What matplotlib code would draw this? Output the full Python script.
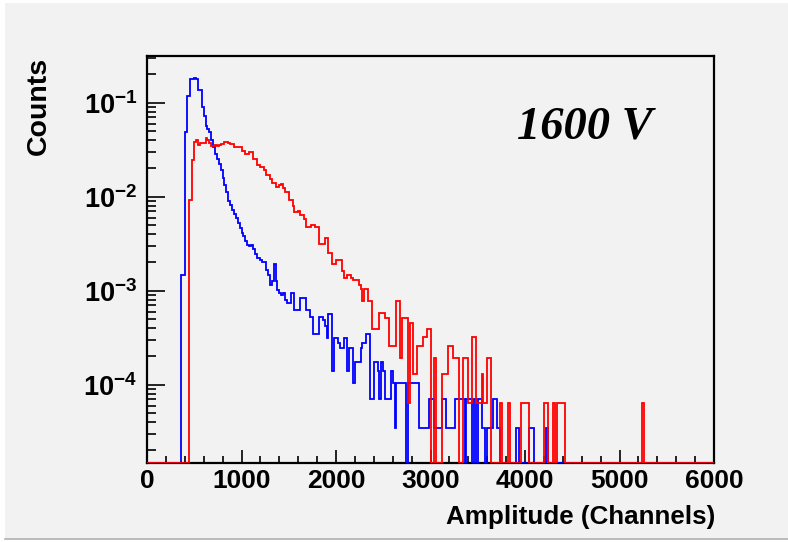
import numpy as np
import matplotlib
matplotlib.use("Agg")
import matplotlib.pyplot as plt
from matplotlib.patches import Rectangle
from matplotlib.ticker import LogLocator, NullFormatter, FixedLocator, MultipleLocator

# ---------------- data ----------------
x_min, x_max = 0, 6000
bin_width = 20                      # channels per bin
y_min, y_max = 1.47e-5, 0.314

# blue histogram: raw counts starting at channel 360, normalised by blue_norm
blue_first = 360
blue_norm = 28600.0
blue_counts = [
    42, 42, 1394, 3333, 3333, 5150, 5150, 5300, 5150, 3940,
    3940, 2575, 2060, 1636, 1515, 1394, 1150, 970, 818, 727,
    636, 545, 455, 382, 318, 258, 236, 206, 188, 170,
    152, 133, 118, 109, 97, 88, 85, 88, 79, 70,
    64, 64, 61, 58, 58, 48, 42, 33, 36, 55,
    36, 29, 27, 26, 27, 23, 21, 21, 27, 27,
    18, 18, 18, 24, 24, 24, 18, 18, 15, 15,
    10, 10, 10, 15, 15, 14, 12, 9, 16, 16,
    4, 9, 9, 8, 7, 7, 9, 9, 4, 7,
    7, 3, 5, 5,
    # 2240 ->
    5, 7, 8, 8, 10, 10, 2, 2, 5, 5,
    4, 2, 5, 4, 2, 2, 2, 4, 3, 1,
    3, 3, 3, 3, 3, 0, 3, 3, 3, 3,
    3, 3, 1, 1, 1, 1, 1, 2, 2, 2,
    1, 1, 1, 1, 2, 2, 1, 1, 1, 1,
    1, 2, 2, 2, 2, 2, 0, 2, 2, 2,
    0, 2, 0, 2, 2, 1, 1, 0, 1, 1,
    1, 2, 2, 1, 1, 0, 0, 0, 0, 0,
    0, 0, 0, 1, 1, 0, 0, 0, 0, 0,
    1, 1, 1, 0, 0, 0, 0, 0, 0, 1,
]

# red histogram: raw counts starting at channel 440, normalised by red_norm
red_first = 440
red_norm = 15500.0
red_counts = [
    143, 143, 377, 590, 618, 546, 574, 574, 574, 656,
    618, 574, 541, 541, 546, 541, 556, 557, 570, 590,
    590, 580, 557, 557, 525, 525, 520, 520, 472, 472,
    440, 440, 459, 459, 394, 394, 335, 335, 321, 321,
    295, 262, 262, 238, 215, 215, 197, 197, 205, 213,
    190, 174, 174, 143, 143, 123, 107, 107, 108, 98,
    98, 90, 74, 74, 74, 77, 77, 74, 74, 49,
    49, 49, 56, 56, 39, 39, 30, 30, 33, 33,
    33, 25, 21, 21, 23, 23, 21, 20, 20, 20,
    # 2240 ->
    18, 16, 12, 16, 16, 12, 12, 6, 6, 6,
    6, 9, 9, 9, 8, 8, 4, 4, 4, 4,
    12, 12, 3, 8, 8, 8, 1, 7, 7, 2,
    2, 4, 4, 4, 5, 5, 6, 6, 0, 0,
    3, 0, 0, 0, 2, 2, 2, 4, 4, 4,
    3, 3, 3, 0, 0, 3, 3, 3, 1, 1,
    5, 5, 1, 1, 1, 2, 1, 1, 3, 3,
    0, 0, 0, 0, 0, 1, 0, 0, 0, 1,
    0, 0, 0, 0, 0, 0, 1, 1, 1, 1,
    0, 0, 0, 0, 0, 0, 0, 0, 1, 1,
    0, 0, 0, 1, 0, 1, 1, 1, 1, 0,
    # 4440 ->
    0, 0, 0, 0, 0, 0, 0, 0, 0, 0,
    0, 0, 0, 0, 0, 0, 0, 0, 0, 0,
    0, 0, 0, 0, 0, 0, 0, 0, 0, 0,
    0, 0, 0, 0, 0, 0, 0, 0, 0, 0,
    1,
]

x_ticks = [0, 1000, 2000, 3000, 4000, 5000, 6000]
y_ticks = [1e-4, 1e-3, 1e-2, 1e-1]
x_label = "Amplitude (Channels)"
y_label = "Counts"
annotation = "1600 V"

# ---------------- helpers ----------------
n_bins = (x_max - x_min) // bin_width
edges = np.arange(n_bins + 1) * bin_width + x_min


def full_hist(first, counts, norm):
    vals = np.zeros(n_bins)
    i0 = (first - x_min) // bin_width
    c = np.asarray(counts, dtype=float)
    vals[i0:i0 + len(c)] = c / norm
    # empty bins drawn on the bottom of the frame (as ROOT does)
    return np.where(vals > 0, vals, y_min)


blue_vals = full_hist(blue_first, blue_counts, blue_norm)
red_vals = full_hist(red_first, red_counts, red_norm)

plt.rcParams["mathtext.fontset"] = "custom"
plt.rcParams["mathtext.bf"] = "Liberation Sans:bold"
plt.rcParams["mathtext.rm"] = "Liberation Sans"

# ---------------- figure ----------------
W, H = 788, 542
bg = "#f2f2f2"
fig = plt.figure(figsize=(W / 100, H / 100), dpi=100, facecolor="white")
fig.patches.append(Rectangle((5 / W, 3 / H), 1 - 5 / W, 1 - 3 / H - 3 / H,
                             transform=fig.transFigure, facecolor=bg,
                             edgecolor="none", zorder=-10))
fig.add_artist(plt.Line2D([5 / W, 1], [3 / H, 3 / H], transform=fig.transFigure,
                          color="#b0b0b0", lw=1.2))

ax = fig.add_axes([147 / W, 1 - 463 / H, (714 - 147) / W, (463 - 56) / H])
ax.set_facecolor(bg)

ax.stairs(blue_vals, edges, baseline=None, color="#0000ff", lw=1.3, zorder=3)
ax.stairs(red_vals, edges, baseline=None, color="#ff0000", lw=1.3, zorder=4)

ax.set_yscale("log")
ax.set_xlim(x_min, x_max)
ax.set_ylim(y_min, y_max)

for s in ax.spines.values():
    s.set_linewidth(1.6)
    s.set_color("black")

ax.xaxis.set_major_locator(FixedLocator(x_ticks))
ax.xaxis.set_minor_locator(MultipleLocator(200))
ax.yaxis.set_major_locator(FixedLocator(y_ticks))
ax.yaxis.set_minor_locator(LogLocator(base=10, subs=np.arange(2, 10)))
ax.yaxis.set_minor_formatter(NullFormatter())
ax.yaxis.set_major_formatter(plt.FuncFormatter(
    lambda v, p: r"$\mathbf{10^{%d}}$" % int(round(np.log10(v)))))
ax.xaxis.set_major_formatter(plt.FuncFormatter(lambda v, p: "%d" % v))

ax.tick_params(axis="x", which="major", direction="in", length=9.5, width=1.2,
               top=False, pad=4)
ax.tick_params(axis="x", which="minor", direction="in", length=4.8, width=1.2,
               top=False)
ax.tick_params(axis="y", which="major", direction="in", length=13, width=1.2,
               right=False, pad=7)
ax.tick_params(axis="y", which="minor", direction="in", length=6.5, width=1.2,
               right=False)

for lab in ax.get_xticklabels():
    lab.set_fontfamily("Liberation Sans")
    lab.set_fontweight("bold")
    lab.set_fontsize(19)
for lab in ax.get_yticklabels():
    lab.set_fontfamily("Liberation Sans")
    lab.set_fontweight("bold")
    lab.set_fontsize(19.5)

fig.text(715 / W, 1 - 517 / H, x_label, ha="right", va="center",
         fontfamily="Liberation Sans", fontweight="bold", fontsize=18.7)
fig.text(39 / W, 1 - 57 / H, y_label, rotation=90, ha="center", va="top",
         fontfamily="Liberation Sans", fontweight="bold", fontsize=20.5)

ax.text(0.653, 0.825, annotation, transform=ax.transAxes, ha="left",
        va="center", fontfamily="Liberation Serif", fontweight="bold",
        fontstyle="italic", fontsize=33.5, zorder=5)

fig.savefig("out.png", dpi=100, facecolor=fig.get_facecolor())
